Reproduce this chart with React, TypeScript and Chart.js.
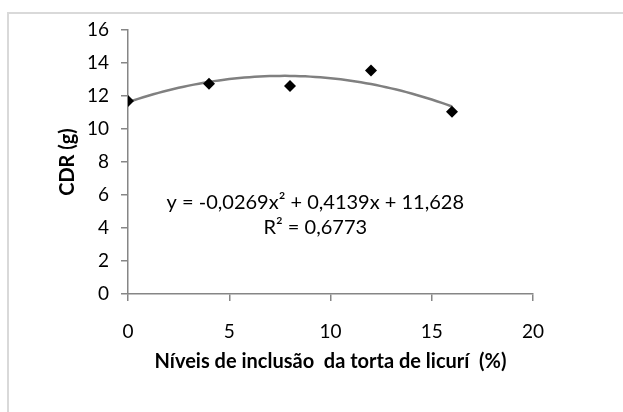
import React, { useEffect, useRef } from "react";
import { Chart, registerables } from "chart.js";

Chart.register(...registerables);

// Measured inclusion levels (%) and CDR (g)
const inclusionLevels = [0, 4, 8, 12, 16];
const cdrValues = [11.7, 12.75, 12.6, 13.55, 11.05];

// Polynomial trendline: c0 + c1·x + c2·x²
const trendCoefficients = [11.628, 0.4139, -0.0269];
const trendRange = [0, 16];

const yTicks = [0, 2, 4, 6, 8, 10, 12, 14, 16];
const xTicks = [0, 5, 10, 15, 20];

const equationLines = ["y = -0,0269x² + 0,4139x + 11,628", "R² = 0,6773"];

const FONT = "Lato, 'Open Sans', sans-serif";
const TEXT = "#000000";
const AXIS = "#868686";

function trendPoints() {
  const pts: { x: number; y: number }[] = [];
  const [a, b] = trendRange;
  const steps = 64;
  for (let i = 0; i <= steps; i++) {
    const x = a + ((b - a) * i) / steps;
    const y = trendCoefficients[0] + trendCoefficients[1] * x + trendCoefficients[2] * x * x;
    pts.push({ x, y });
  }
  return pts;
}

// Writes the trendline equation and R² inside the plot area
const equationLabel = {
  id: "equationLabel",
  afterDatasetsDraw(chart: any, _args: any, opts: any) {
    const { ctx, scales } = chart;
    const px = scales.x.getPixelForValue(opts.x);
    ctx.save();
    ctx.font = `20px ${FONT}`;
    ctx.fillStyle = TEXT;
    ctx.textAlign = "center";
    ctx.textBaseline = "middle";
    equationLines.forEach((line, i) => {
      ctx.fillText(line, px, scales.y.getPixelForValue(opts.y[i]));
    });
    ctx.restore();
  },
};

export default function App() {
  const canvasRef = useRef<HTMLCanvasElement | null>(null);

  useEffect(() => {
    if (!canvasRef.current) return;
    const chart = new Chart(canvasRef.current, {
      type: "scatter",
      data: {
        datasets: [
          {
            label: "CDR",
            data: inclusionLevels.map((x, i) => ({ x, y: cdrValues[i] })),
            pointStyle: "rectRot",
            pointRadius: 6,
            pointBackgroundColor: "#000000",
            pointBorderColor: "#000000",
            pointBorderWidth: 0,
            showLine: false,
          },
          {
            label: "Trend",
            data: trendPoints(),
            showLine: true,
            borderColor: "#808080",
            borderWidth: 2.5,
            pointRadius: 0,
            tension: 0,
          },
        ],
      },
      options: {
        responsive: false,
        animation: false,
        layout: { padding: { left: 0, top: 30, right: 90, bottom: 0 } },
        plugins: {
          legend: { display: false },
          tooltip: { enabled: false },
          equationLabel: { x: 9.25, y: [5.57, 4.0] },
        } as any,
        scales: {
          x: {
            type: "linear",
            min: 0,
            max: 20,
            afterFit: (s: any) => {
              s.height = 118;
            },
            afterBuildTicks: (s: any) => {
              s.ticks = xTicks.map((v) => ({ value: v }));
            },
            ticks: { color: TEXT, font: { family: FONT, size: 19 }, padding: 19, maxRotation: 0 },
            grid: { drawOnChartArea: false, drawTicks: true, tickLength: 7, color: AXIS, lineWidth: 1.5 },
            border: { display: true, color: AXIS, width: 1.5 },
            title: {
              display: true,
              text: "Níveis de inclusão  da torta de licurí  (%)",
              color: TEXT,
              font: { family: FONT, size: 20, weight: "bold" },
              padding: { top: 0, bottom: 38 },
            },
          },
          y: {
            type: "linear",
            min: 0,
            max: 16,
            afterFit: (s: any) => {
              s.width = 128;
            },
            afterBuildTicks: (s: any) => {
              s.ticks = yTicks.map((v) => ({ value: v }));
            },
            ticks: { color: TEXT, font: { family: FONT, size: 19 }, padding: 12 },
            grid: { drawOnChartArea: false, drawTicks: true, tickLength: 7, color: AXIS, lineWidth: 1.5 },
            border: { display: true, color: AXIS, width: 1.5 },
            title: {
              display: true,
              text: "CDR (g)",
              color: TEXT,
              font: { family: FONT, size: 20, weight: "bold" },
              padding: { top: 56, bottom: 0 },
            },
          },
        },
      },
      plugins: [equationLabel],
    });
    return () => chart.destroy();
  }, []);

  return (
    <div
      style={{
        position: "fixed",
        left: 0,
        top: 0,
        width: 623,
        height: 412,
        overflow: "hidden",
        background: "#ffffff",
      }}
    >
      <div
        style={{
          position: "absolute",
          left: 7,
          top: 12,
          right: -20,
          bottom: -20,
          borderTop: "2px solid #d9d9d9",
          borderLeft: "2px solid #d9d9d9",
        }}
      />
      <canvas
        ref={canvasRef}
        width={623}
        height={412}
        style={{ position: "absolute", left: 0, top: 0, width: 623, height: 412 }}
      />
    </div>
  );
}
